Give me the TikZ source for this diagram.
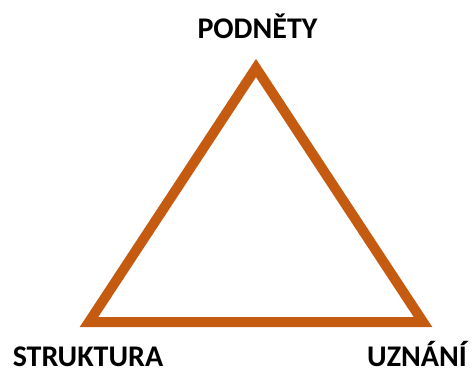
\documentclass[tikz,border=0pt]{standalone}
\usepackage{fontspec}
\setmainfont{Carlito}
\usepackage{tikz}
\definecolor{edgeorange}{HTML}{C55A11}
\tikzset{corner/.style={font=\bfseries\fontsize{30}{32}\selectfont, anchor=base, inner sep=0pt}}

\begin{document}
\begin{tikzpicture}[x=1pt, y=-1pt]
  \useasboundingbox (0,0) rectangle (472,372);

  % ---------- triangle corners ----------
  \coordinate (top)   at (256,68);
  \coordinate (left)  at (89,322);
  \coordinate (right) at (423,322);
  \draw[edgeorange, line width=10pt, miter limit=10] (top) -- (left) -- (right) -- cycle;

  % ---------- labels ----------
  \node[corner] (podnety)   at (257.5,38) {PODNĚTY};
  \node[corner] (struktura) at (88,366)   {STRUKTURA};
  \node[corner] (uznani)    at (417,366)  {UZNÁNÍ};

\end{tikzpicture}
\end{document}
